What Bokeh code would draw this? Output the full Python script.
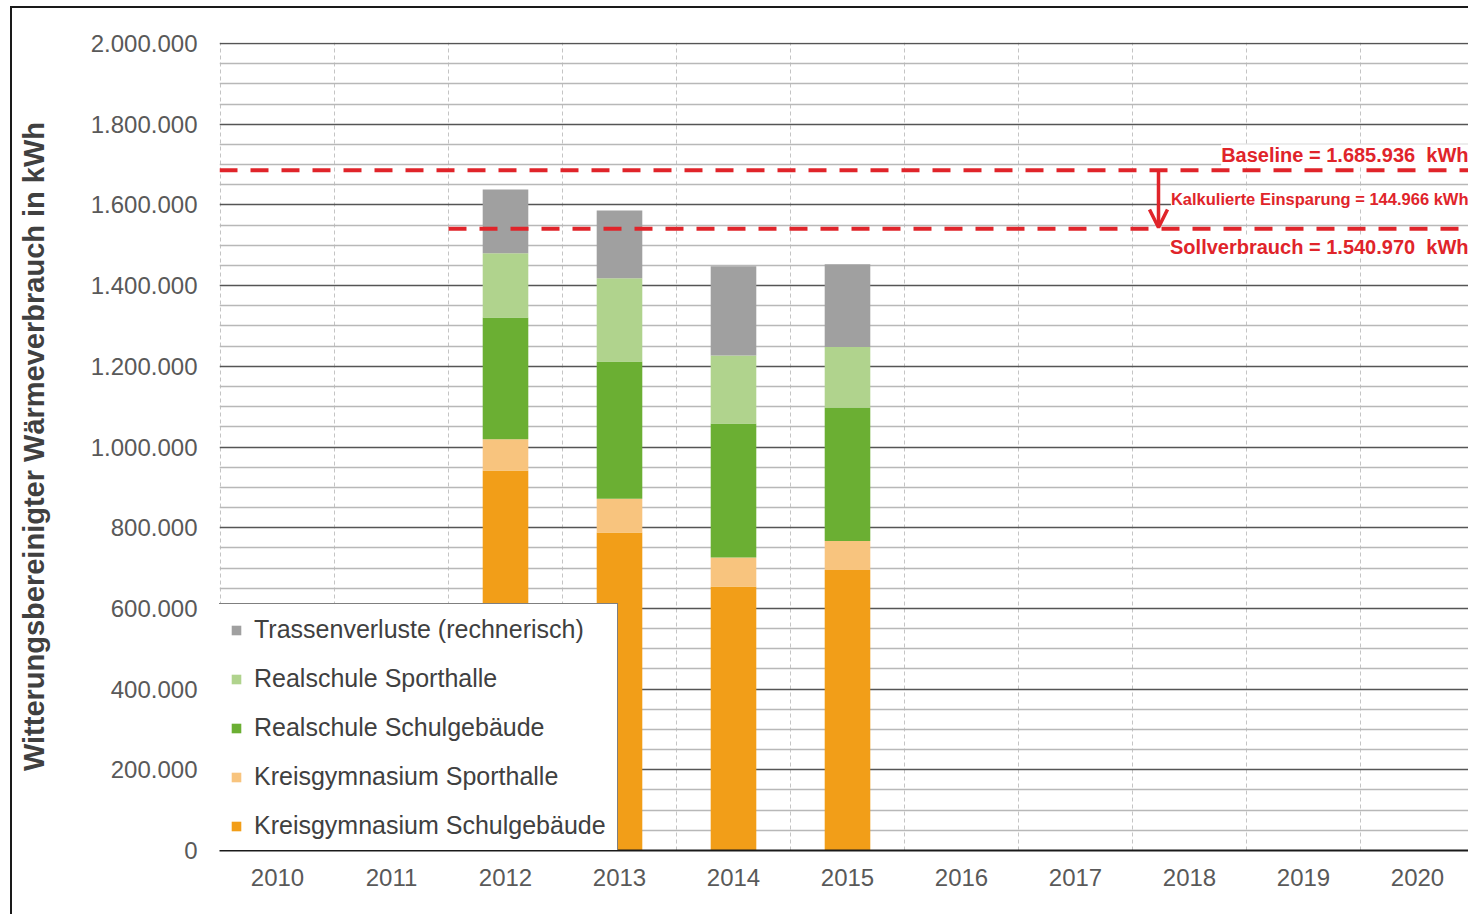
from bokeh.plotting import figure
from bokeh.models import (Range1d, FixedTicker, Legend, LegendItem, Label,
                          Arrow, OpenHead, ColumnDataSource, Span)
from bokeh.embed import file_html
from bokeh.resources import INLINE

# ---------------- data ----------------
years = [2010, 2011, 2012, 2013, 2014, 2015, 2016, 2017, 2018, 2019, 2020]
bar_years = [2012, 2013, 2014, 2015]
kg_schul = [942000, 788000, 654000, 695000]
kg_sport = [77000, 84000, 72000, 72000]
rs_schul = [302000, 340000, 332000, 331000]
rs_sport = [159000, 206000, 169000, 150000]
trassen = [158000, 168000, 221000, 205000]

series_names = ["Kreisgymnasium Schulgebäude", "Kreisgymnasium Sporthalle",
                "Realschule Schulgebäude", "Realschule Sporthalle",
                "Trassenverluste (rechnerisch)"]
series_colors = ["#F29E18", "#F8C47E", "#6BAF33", "#B0D38D", "#A0A0A0"]

baseline = 1685936
sollverbrauch = 1540970
einsparung = 144966
baseline_text = "Baseline = 1.685.936\u00a0 kWh"
soll_text = "Sollverbrauch = 1.540.970\u00a0 kWh"
einsparung_text = "Kalkulierte Einsparung = 144.966 kWh"

y_ticks = [0, 200000, 400000, 600000, 800000, 1000000, 1200000, 1400000,
           1600000, 1800000, 2000000]
y_tick_labels = ["0", "200.000", "400.000", "600.000", "800.000", "1.000.000",
                 "1.200.000", "1.400.000", "1.600.000", "1.800.000", "2.000.000"]
y_minor = [v for v in range(0, 2000001, 50000) if v % 200000 != 0]
y_title = "Witterungsbereinigter Wärmeverbrauch in kWh"

# ---------------- layout ----------------
FONT = "Liberation Sans"
RED = "#E0242A"
cat_px = 114.0
frame_w = 1251
x_start = years[0] - 0.5 - 1 / cat_px
x_end = x_start + frame_w / cat_px
y_end = 2002500

p = figure(width=1458, height=908, output_backend="svg", toolbar_location=None,
           x_range=Range1d(x_start, x_end), y_range=Range1d(0, y_end),
           min_border_left=207, min_border_top=34, min_border_bottom=66,
           min_border_right=0)
p.styles = {"margin-left": "10px", "margin-top": "6px",
            "border-left": "2px solid #1a1a1a", "border-top": "2px solid #1a1a1a"}
p.background_fill_color = "white"
p.border_fill_color = "white"
p.outline_line_color = None

# axes
p.yaxis.ticker = FixedTicker(ticks=y_ticks, minor_ticks=y_minor)
p.yaxis.major_label_overrides = {t: l for t, l in zip(y_ticks, y_tick_labels)}
p.yaxis.axis_line_color = None
p.yaxis.major_tick_line_color = None
p.yaxis.minor_tick_line_color = None
p.yaxis.major_label_standoff = 16
p.yaxis.major_label_text_font = FONT
p.yaxis.major_label_text_font_size = "24px"
p.yaxis.major_label_text_color = "#595959"
p.yaxis.axis_label = y_title
p.yaxis.axis_label_text_font = FONT
p.yaxis.axis_label_text_font_size = "29px"
p.yaxis.axis_label_text_font_style = "bold"
p.yaxis.axis_label_text_color = "#404040"
p.yaxis.axis_label_standoff = 38

p.xaxis.ticker = FixedTicker(ticks=years)
p.xaxis.major_label_overrides = {y: str(y) for y in years}
p.xaxis.axis_line_color = "#1a1a1a"
p.xaxis.axis_line_width = 2
p.xaxis.major_tick_line_color = None
p.xaxis.minor_tick_line_color = None
p.xaxis.major_label_standoff = 12
p.xaxis.major_label_text_font = FONT
p.xaxis.major_label_text_font_size = "24px"
p.xaxis.major_label_text_color = "#595959"

# grids
p.ygrid.ticker = FixedTicker(ticks=y_ticks, minor_ticks=y_minor)
p.ygrid.grid_line_color = "#555555"
p.ygrid.grid_line_width = 1.3
p.ygrid.minor_grid_line_color = "#b8b8b8"
p.ygrid.minor_grid_line_width = 1.5
p.xgrid.ticker = FixedTicker(ticks=[y - 0.5 for y in years])
p.xgrid.grid_line_color = "#c4c4c4"
p.xgrid.grid_line_width = 1
p.xgrid.grid_line_dash = "4 3"

# bars
src = ColumnDataSource(dict(x=bar_years, s0=kg_schul, s1=kg_sport, s2=rs_schul,
                            s3=rs_sport, s4=trassen))
rends = p.vbar_stack(["s0", "s1", "s2", "s3", "s4"], x="x", width=0.4,
                     fill_color=series_colors, line_color=series_colors,
                     line_width=0, source=src)

# baseline / soll lines
p.add_layout(Span(location=baseline, dimension="width", line_color=RED,
                  line_width=4, line_dash="18 13"))
p.line([years[1] + 0.5, x_end], [sollverbrauch, sollverbrauch], line_color=RED,
       line_width=4, line_dash="18 13")

arrow_x = years[0] - 0.5 + (1158 - 220) / cat_px
p.add_layout(Arrow(end=OpenHead(size=18, line_color=RED, line_width=3.5),
                   x_start=arrow_x, y_start=baseline, x_end=arrow_x,
                   y_end=sollverbrauch + 3000, line_color=RED, line_width=3.5))

lab_x = x_end
p.add_layout(Label(x=lab_x, y=baseline, text=baseline_text, text_align="right",
                   text_baseline="middle", x_offset=-2, y_offset=15,
                   text_font=FONT, text_font_size="20px", text_font_style="bold",
                   text_color=RED, background_fill_color="white"))
p.add_layout(Label(x=lab_x, y=(baseline + sollverbrauch) / 2, text=einsparung_text,
                   text_align="right", text_baseline="middle", x_offset=-2,
                   text_font=FONT, text_font_size="16.5px", text_font_style="bold",
                   text_color=RED, background_fill_color="white"))
p.add_layout(Label(x=lab_x, y=sollverbrauch, text=soll_text, text_align="right",
                   text_baseline="middle", x_offset=-2, y_offset=-18,
                   text_font=FONT, text_font_size="20px", text_font_style="bold",
                   text_color=RED, background_fill_color="white"))

# legend
items = [LegendItem(label=series_names[i], renderers=[rends[i]]) for i in range(4, -1, -1)]
legend = Legend(items=items, location=(-1, -2), margin=0, padding=11,
                spacing=20, glyph_width=12, glyph_height=12, label_height=13,
                label_standoff=12, label_text_font=FONT, label_text_font_size="25px",
                label_text_color="#404040", border_line_color="black",
                border_line_width=1.5, background_fill_color="white",
                background_fill_alpha=1)
p.add_layout(legend)

open("out.html", "w").write(file_html(p, INLINE))
